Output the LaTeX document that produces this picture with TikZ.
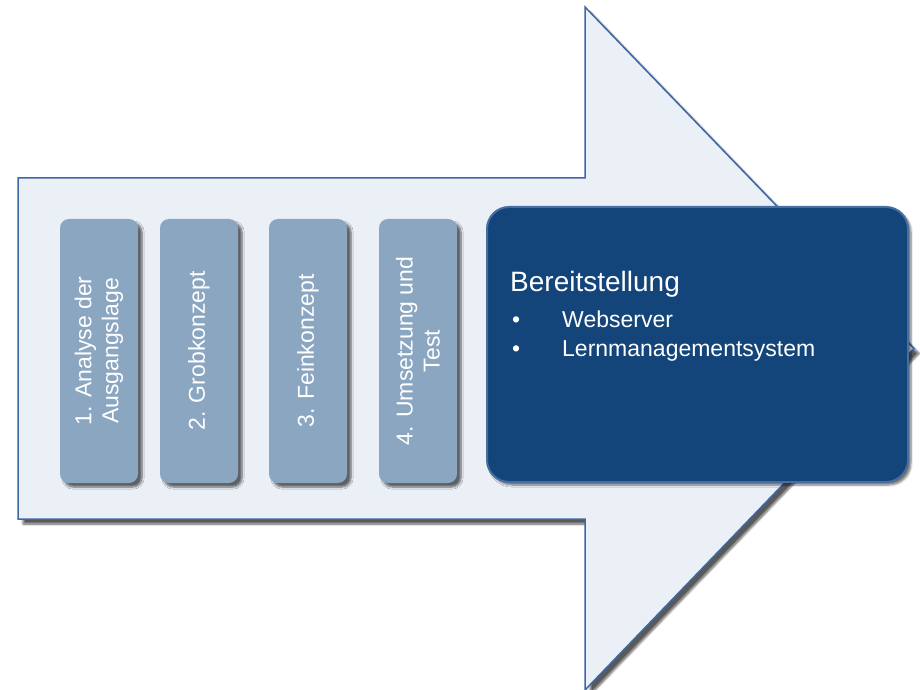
\documentclass[tikz,border=0pt]{standalone}
\usepackage{fontspec}
\setmainfont{Liberation Sans}
\usetikzlibrary{shadows.blur}

\definecolor{arrowfill}{RGB}{235,240,247}
\definecolor{arrowline}{RGB}{60,104,166}
\definecolor{phasefill}{RGB}{139,166,193}
\definecolor{deployfill}{RGB}{20,69,122}
\definecolor{deployline}{RGB}{72,110,160}

\tikzset{
	phase/.style={fill=phasefill, rounded corners=9pt, minimum width=78pt, minimum height=264pt, inner sep=0pt,
		blur shadow={shadow xshift=4pt, shadow yshift=-4pt, shadow blur steps=6, shadow opacity=60}},
	phasetext/.style={rotate=90, align=center, text=white, inner sep=0pt, font=\fontsize{23}{27}\selectfont},
	deploybox/.style={fill=deployfill, draw=deployline, line width=2pt, rounded corners=22pt, minimum width=421pt, minimum height=275pt,
		blur shadow={shadow xshift=3pt, shadow yshift=-3pt, shadow blur steps=6, shadow opacity=55}},
	deploytext/.style={anchor=base west, inner sep=0pt, text=white, font=\fontsize{23}{28}\selectfont},
}

\begin{document}
\begin{tikzpicture}[x=1pt, y=1pt]
	\useasboundingbox (0,0) rectangle (920,689);
	\clip (0,0) rectangle (920,689);

	% big arrow
	\draw[fill=arrowfill, draw=arrowline, line width=1.5pt, blur shadow={shadow xshift=5pt, shadow yshift=-5pt, shadow blur steps=8, shadow opacity=65}]
		(18,170) -- (18,511) -- (585,511) -- (585,682) -- (914,340.5) -- (585,-1) -- (585,170) -- cycle;

	% phases
	\foreach \x/\txt [count=\i] in {99/{1. Analyse der\\Ausgangslage}, 199/{2. Grobkonzept}, 308/{3. Feinkonzept}, 418/{4. Umsetzung und\\Test}}
	{
		\node[phase] (phase\i) at (\x, 338) {};
		\node[phasetext] (phasetext\i) at (phase\i) {\txt};
	}

	% last phase
	\node[deploybox] (deploy) at (697.5, 344.5) {};
	\node[deploytext, font=\fontsize{28}{32}\selectfont] (deploytitle) at ([xshift=24pt, yshift=-86pt]deploy.north west) {Bereitstellung};
	\node[deploytext] (bullet1) at ([xshift=26pt, yshift=-121pt]deploy.north west) {•};
	\node[deploytext] (item1) at ([xshift=76pt, yshift=-121pt]deploy.north west) {Webserver};
	\node[deploytext] (bullet2) at ([xshift=26pt, yshift=-150pt]deploy.north west) {•};
	\node[deploytext] (item2) at ([xshift=76pt, yshift=-150pt]deploy.north west) {Lernmanagementsystem};

\end{tikzpicture}
\end{document}
